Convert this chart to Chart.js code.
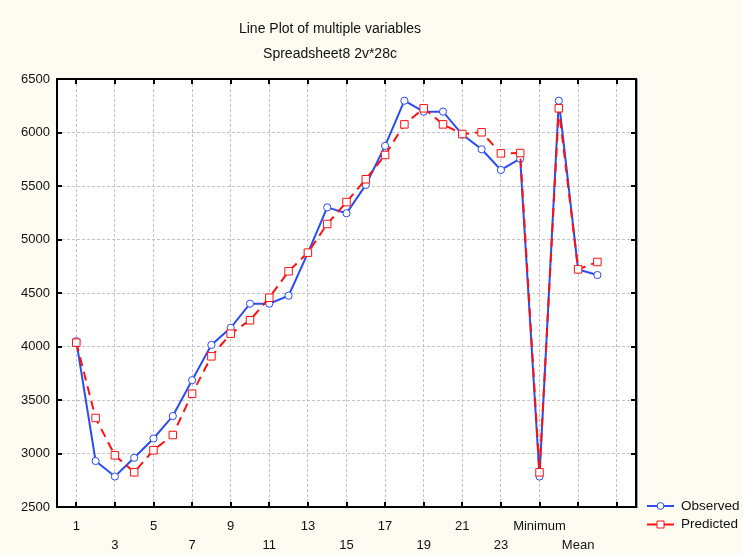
<!DOCTYPE html>
<html>
<head>
    <title>Line Plot of multiple variables</title>
    <script src="https://cdn.jsdelivr.net/npm/chart.js"></script>
    <style>
        body {
            margin: 0;
            padding: 0;
            background-color: #fefbf2;
        }
        .wrap {
            width: 743px;
            height: 555px;
        }
    </style>
</head>
<body>
    <div class="wrap"><canvas id="plot"></canvas></div>

    <script>
        // cases of the spreadsheet (24 rows plus summary rows)
        const categories = ["1", "2", "3", "4", "5", "6", "7", "8", "9", "10", "11", "12",
            "13", "14", "15", "16", "17", "18", "19", "20", "21", "22", "23", "24",
            "Minimum", "Maximum", "Mean", "Median"];
        const observed = [4050, 2930, 2785, 2960, 3140, 3350, 3685, 4015, 4175, 4400, 4400, 4475,
            4875, 5300, 5245, 5510, 5875, 6297, 6195, 6195, 5980, 5843, 5650, 5755,
            2785, 6297, 4720, 4668];
        const predicted = [4036, 3332, 2983, 2824, 3030, 3173, 3559, 3908, 4120, 4245, 4456, 4703,
            4877, 5145, 5350, 5563, 5790, 6076, 6226, 6076, 5986, 6002, 5805, 5808,
            2824, 6226, 4721, 4790];
        const xTicks = [1, 3, 5, 7, 9, 11, 13, 15, 17, 19, 21, 23, 25, 27, 29];
        const yTicks = [2500, 3000, 3500, 4000, 4500, 5000, 5500, 6000, 6500];
        const titleText = "Line Plot of multiple variables";
        const subtitleText = "Spreadsheet8 2v*28c";

        const FONT = "'Liberation Sans', Arial, sans-serif";
        const BLUE = "#2b4cf2";
        const RED = "#ff1010";

        function toPoints(values) {
            return values.map((v, i) => ({ x: i + 1, y: v }));
        }

        // background, frame with inward ticks, titles and legend
        const decor = {
            id: "decor",
            beforeDraw(chart) {
                const ctx = chart.ctx;
                const a = chart.chartArea;
                ctx.save();
                ctx.fillStyle = "#fefbf2";
                ctx.fillRect(0, 0, chart.width, chart.height);
                ctx.fillStyle = "#ffffff";
                ctx.fillRect(a.left, a.top, a.right - a.left, a.bottom - a.top);
                ctx.restore();
            },
            afterDraw(chart) {
                const ctx = chart.ctx;
                const a = chart.chartArea;
                const xs = chart.scales.x;
                const ys = chart.scales.y;
                ctx.save();

                // ticks pointing inward
                ctx.strokeStyle = "#000";
                ctx.lineWidth = 2;
                ctx.beginPath();
                xs.ticks.forEach(t => {
                    const px = Math.round(xs.getPixelForValue(t.value));
                    ctx.moveTo(px, a.bottom); ctx.lineTo(px, a.bottom - 5);
                    ctx.moveTo(px, a.top); ctx.lineTo(px, a.top + 5);
                });
                ys.ticks.forEach(t => {
                    const py = Math.round(ys.getPixelForValue(t.value));
                    ctx.moveTo(a.left, py); ctx.lineTo(a.left + 5, py);
                    ctx.moveTo(a.right, py); ctx.lineTo(a.right - 5, py);
                });
                ctx.stroke();

                // frame
                ctx.lineWidth = 2;
                ctx.strokeRect(a.left, a.top, a.right - a.left, a.bottom - a.top);
                ctx.strokeStyle = "#9a9a9a";
                ctx.lineWidth = 1;
                ctx.beginPath();
                ctx.moveTo(a.right + 1.5, a.top);
                ctx.lineTo(a.right + 1.5, a.bottom + 1);
                ctx.stroke();

                // titles
                ctx.fillStyle = "#111";
                ctx.textAlign = "center";
                ctx.textBaseline = "middle";
                ctx.font = "14px " + FONT;
                ctx.fillText(titleText, 330, 29);
                ctx.fillText(subtitleText, 330, 54);

                // legend
                ctx.textAlign = "left";
                ctx.font = "13.5px " + FONT;
                chart.data.datasets.forEach((ds, i) => {
                    const y = 506 + i * 18.5;
                    ctx.strokeStyle = ds.borderColor;
                    ctx.lineWidth = 2;
                    ctx.setLineDash([]);
                    ctx.beginPath();
                    ctx.moveTo(647, y); ctx.lineTo(674, y);
                    ctx.stroke();
                    ctx.lineWidth = 1;
                    ctx.fillStyle = "#fff";
                    ctx.beginPath();
                    if (ds.pointStyle === "rect") {
                        ctx.rect(657, y - 3.5, 7, 7);
                    } else {
                        ctx.arc(660.5, y, 3.4, 0, Math.PI * 2);
                    }
                    ctx.fill();
                    ctx.stroke();
                    ctx.fillStyle = "#111";
                    ctx.fillText(ds.label, 681, y);
                });
                ctx.restore();
            }
        };

        new Chart(document.getElementById("plot"), {
            type: "line",
            data: {
                datasets: [
                    {
                        label: "Observed",
                        data: toPoints(observed),
                        borderColor: BLUE,
                        borderWidth: 2,
                        pointStyle: "circle",
                        pointRadius: 3.6,
                        pointBorderWidth: 1,
                        pointBackgroundColor: "#ffffff",
                        pointBorderColor: BLUE,
                        tension: 0,
                        order: 2
                    },
                    {
                        label: "Predicted",
                        data: toPoints(predicted),
                        borderColor: RED,
                        borderWidth: 2,
                        borderDash: [9, 6],
                        pointStyle: "rect",
                        pointRadius: 5.3,
                        pointBorderWidth: 1,
                        pointBackgroundColor: "#ffffff",
                        pointBorderColor: RED,
                        tension: 0,
                        order: 1
                    }
                ]
            },
            options: {
                responsive: true,
                maintainAspectRatio: false,
                animation: false,
                layout: { padding: { top: 79, right: 107, bottom: 0, left: 0 } },
                plugins: {
                    legend: { display: false },
                    tooltip: { enabled: false }
                },
                scales: {
                    x: {
                        type: "linear",
                        min: 0,
                        max: 30,
                        afterBuildTicks: scale => {
                            scale.ticks = xTicks.map(v => ({ value: v }));
                        },
                        afterFit: scale => { scale.height = 48; },
                        border: { display: false, dash: [3, 2] },
                        grid: { color: "#c4c4c4", drawTicks: false },
                        ticks: {
                            autoSkip: false,
                            maxRotation: 0,
                            padding: 10,
                            color: "#111",
                            font: { family: FONT, size: 13, lineHeight: 1.45 },
                            callback: (value, index) => {
                                const label = categories[value - 1] || "";
                                return index % 2 === 0 ? label : ["", label];
                            }
                        }
                    },
                    y: {
                        min: 2500,
                        max: 6500,
                        afterBuildTicks: scale => {
                            scale.ticks = yTicks.map(v => ({ value: v }));
                        },
                        afterFit: scale => { scale.width = 57; },
                        border: { display: false, dash: [3, 2] },
                        grid: { color: "#c4c4c4", drawTicks: false },
                        ticks: {
                            padding: 7,
                            color: "#111",
                            font: { family: FONT, size: 13 },
                            callback: value => String(value)
                        }
                    }
                }
            },
            plugins: [decor]
        });
    </script>
</body>
</html>
